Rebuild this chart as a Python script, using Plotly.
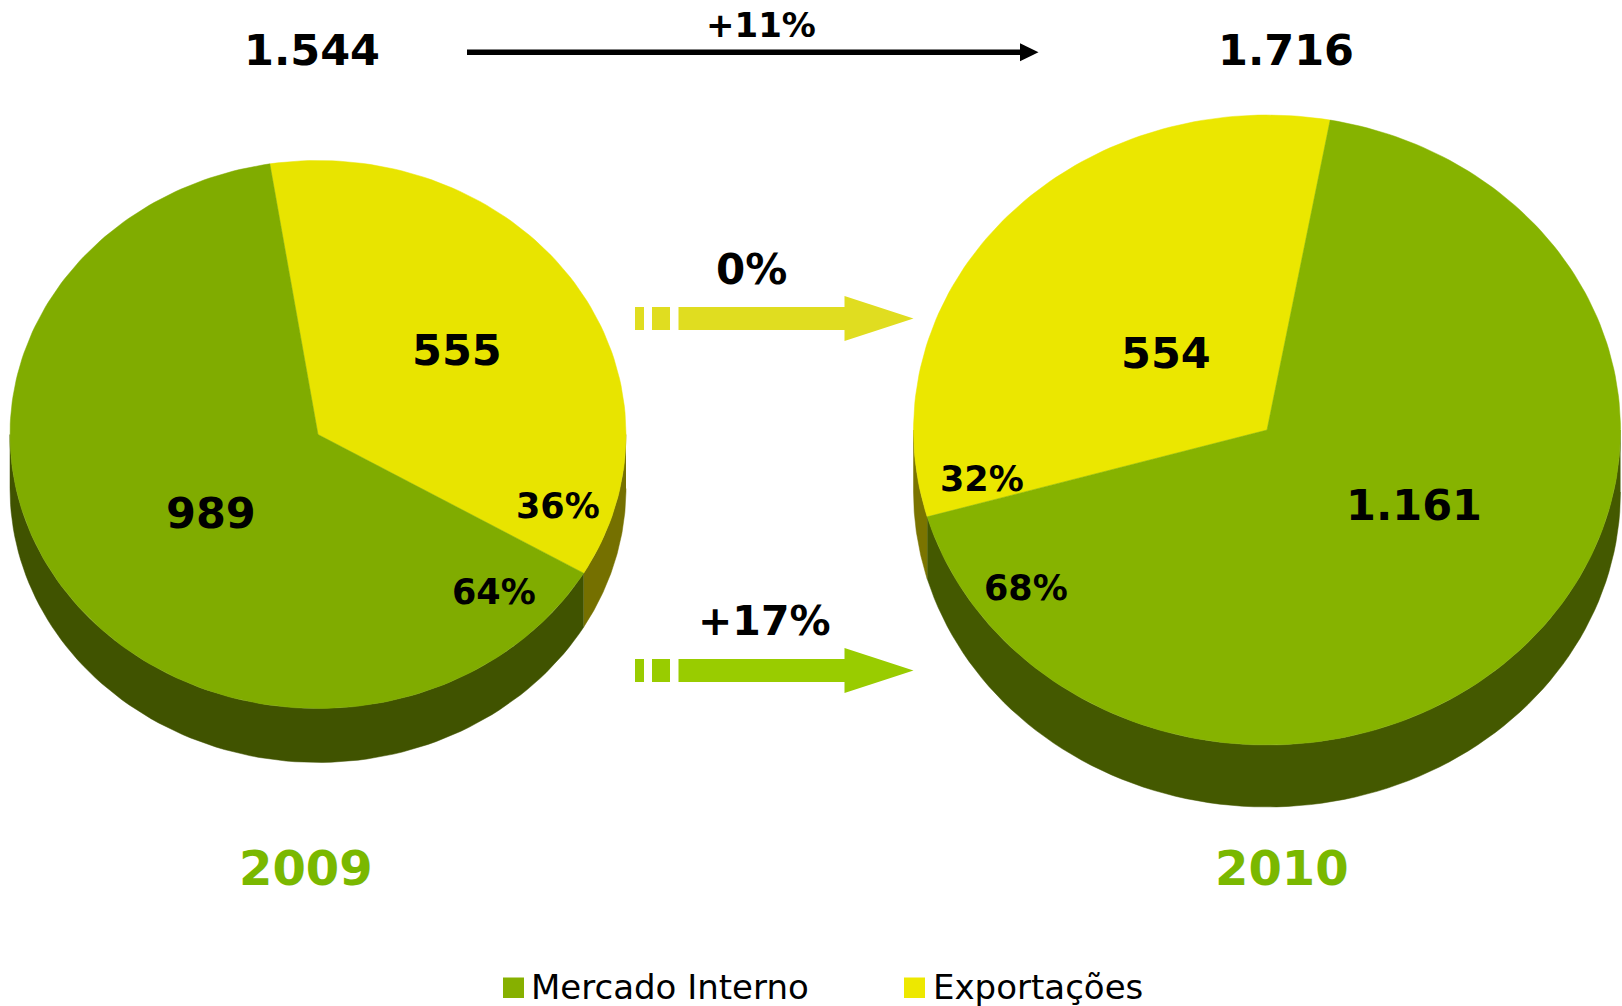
import numpy as np
import plotly.graph_objects as go

years = ["2009", "2010"]
series_names = ["Mercado Interno", "Exportações"]
mercado_interno = [989, 1161]
exportacoes = [555, 554]
value_labels_mi = ["989", "1.161"]
value_labels_ex = ["555", "554"]
share_labels_mi = ["64%", "68%"]
share_labels_ex = ["36%", "32%"]
total_labels = ["1.544", "1.716"]
growth_labels = ["+11%", "0%", "+17%"]

W, H = 1622, 1006
FONT = "DejaVu Sans"

# pie geometry: centre x, centre y, radius x, radius y, depth, yellow start angle
geom = [
    dict(cx=318, cy=434.5, rx=308, ry=274, d=54, start=-9.0,
         green="#80AC00", yellow="#E8E400", wg="#405300", wy="#757000"),
    dict(cx=1267, cy=430, rx=353.5, ry=315, d=62, start=-106,
         green="#86B300", yellow="#EBE700", wg="#445900", wy="#7A7400"),
]


def arc(g, a0, a1, dy=0.0, n=90):
    t = np.radians(np.linspace(a0, a1, n))
    return g["cx"] + g["rx"] * np.sin(t), g["cy"] - g["ry"] * np.cos(t) + dy


def poly(fig, x, y, color, name):
    fig.add_trace(go.Scatter(x=list(x), y=list(y), mode="lines", fill="toself",
                             fillcolor=color, line=dict(color=color, width=0.5),
                             hoverinfo="text", text=name, showlegend=False))


fig = go.Figure()
for i, g in enumerate(geom):
    total = mercado_interno[i] + exportacoes[i]
    a0 = g["start"]
    a1 = a0 + 360 * exportacoes[i] / total
    a2 = a0 + 360

    def wall(s, e, color, name):
        # only the front half of the rim (90..270 deg) is visible
        s2, e2 = max(s, 90), min(e, 270)
        if e2 <= s2:
            return
        x1, y1 = arc(g, s2, e2)
        x2, y2 = arc(g, e2, s2, g["d"])
        poly(fig, np.r_[x1, x2], np.r_[y1, y2], color, name)

    for shift in (0, 360):
        wall(a0 + shift, a1 + shift, g["wy"], series_names[1])
        wall(a1 + shift, a2 + shift, g["wg"], series_names[0])

    xe, ye = arc(g, a0, a1)
    poly(fig, np.r_[g["cx"], xe, g["cx"]], np.r_[g["cy"], ye, g["cy"]], g["yellow"], series_names[1])
    xm, ym = arc(g, a1, a2, n=200)
    poly(fig, np.r_[g["cx"], xm, g["cx"]], np.r_[g["cy"], ym, g["cy"]], g["green"], series_names[0])


def label(text, x, y, size, color="#000000", bold=True, anchor="center"):
    fig.add_annotation(x=x, y=y, text=f"<b>{text}</b>" if bold else text, showarrow=False,
                       xanchor=anchor, yanchor="middle", xref="x", yref="y",
                       font=dict(family=FONT, size=size, color=color))


label(total_labels[0], 312, 50, 43)
label(total_labels[1], 1286, 50, 43)
label(growth_labels[0], 761, 25, 34)
label(growth_labels[1], 751, 269, 42)
label(growth_labels[2], 764, 621, 41)
label(value_labels_ex[0], 457, 350, 43)
label(value_labels_mi[0], 211, 513, 43)
label(share_labels_ex[0], 557.5, 506, 35)
label(share_labels_mi[0], 493.5, 592, 35)
label(value_labels_ex[1], 1166, 353, 43)
label(value_labels_mi[1], 1414, 505, 43)
label(share_labels_ex[1], 981.5, 479, 35)
label(share_labels_mi[1], 1026, 587.5, 35)
label(years[0], 305.5, 868, 48, "#7AB800")
label(years[1], 1281.5, 868, 48, "#7AB800")
label(series_names[0], 529, 986.5, 34, bold=False, anchor="left")
label(series_names[1], 931, 986.5, 34, bold=False, anchor="left")


def rect(x0, x1, y0, y1, c):
    return dict(type="rect", xref="x", yref="y", x0=x0, x1=x1, y0=y0, y1=y1,
                fillcolor=c, line=dict(width=0))


def head(xb, xt, yc, hh, c):
    return dict(type="path", xref="x", yref="y",
                path=f"M{xb},{yc-hh} L{xt},{yc} L{xb},{yc+hh} Z",
                fillcolor=c, line=dict(width=0))


shapes = []
for yc, c in ((318.5, "#E0DD20"), (670.5, "#99CC00")):
    shapes += [rect(635, 644, yc - 11.5, yc + 11.5, c),
               rect(652, 670, yc - 11.5, yc + 11.5, c),
               rect(678.5, 845, yc - 11.5, yc + 11.5, c),
               head(844.5, 913.5, yc, 22.5, c)]
shapes += [rect(467, 1022, 49.5, 55, "#000000"), head(1020, 1038.5, 52.3, 9, "#000000")]
shapes += [rect(503, 524, 977.5, 998, "#86B000"), rect(904, 925, 977.5, 998, "#EDE800")]

fig.update_layout(
    width=W, height=H, margin=dict(l=0, r=0, t=0, b=0),
    autosize=False, showlegend=False,
    paper_bgcolor="#FFFFFF", plot_bgcolor="#FFFFFF",
    xaxis=dict(range=[0, W], visible=False, fixedrange=True),
    yaxis=dict(range=[H, 0], visible=False, fixedrange=True),
    shapes=shapes,
)
fig.write_html("out.html", config={"displayModeBar": False},
               post_script="document.body.style.margin='0';document.documentElement.style.overflow='hidden';")
